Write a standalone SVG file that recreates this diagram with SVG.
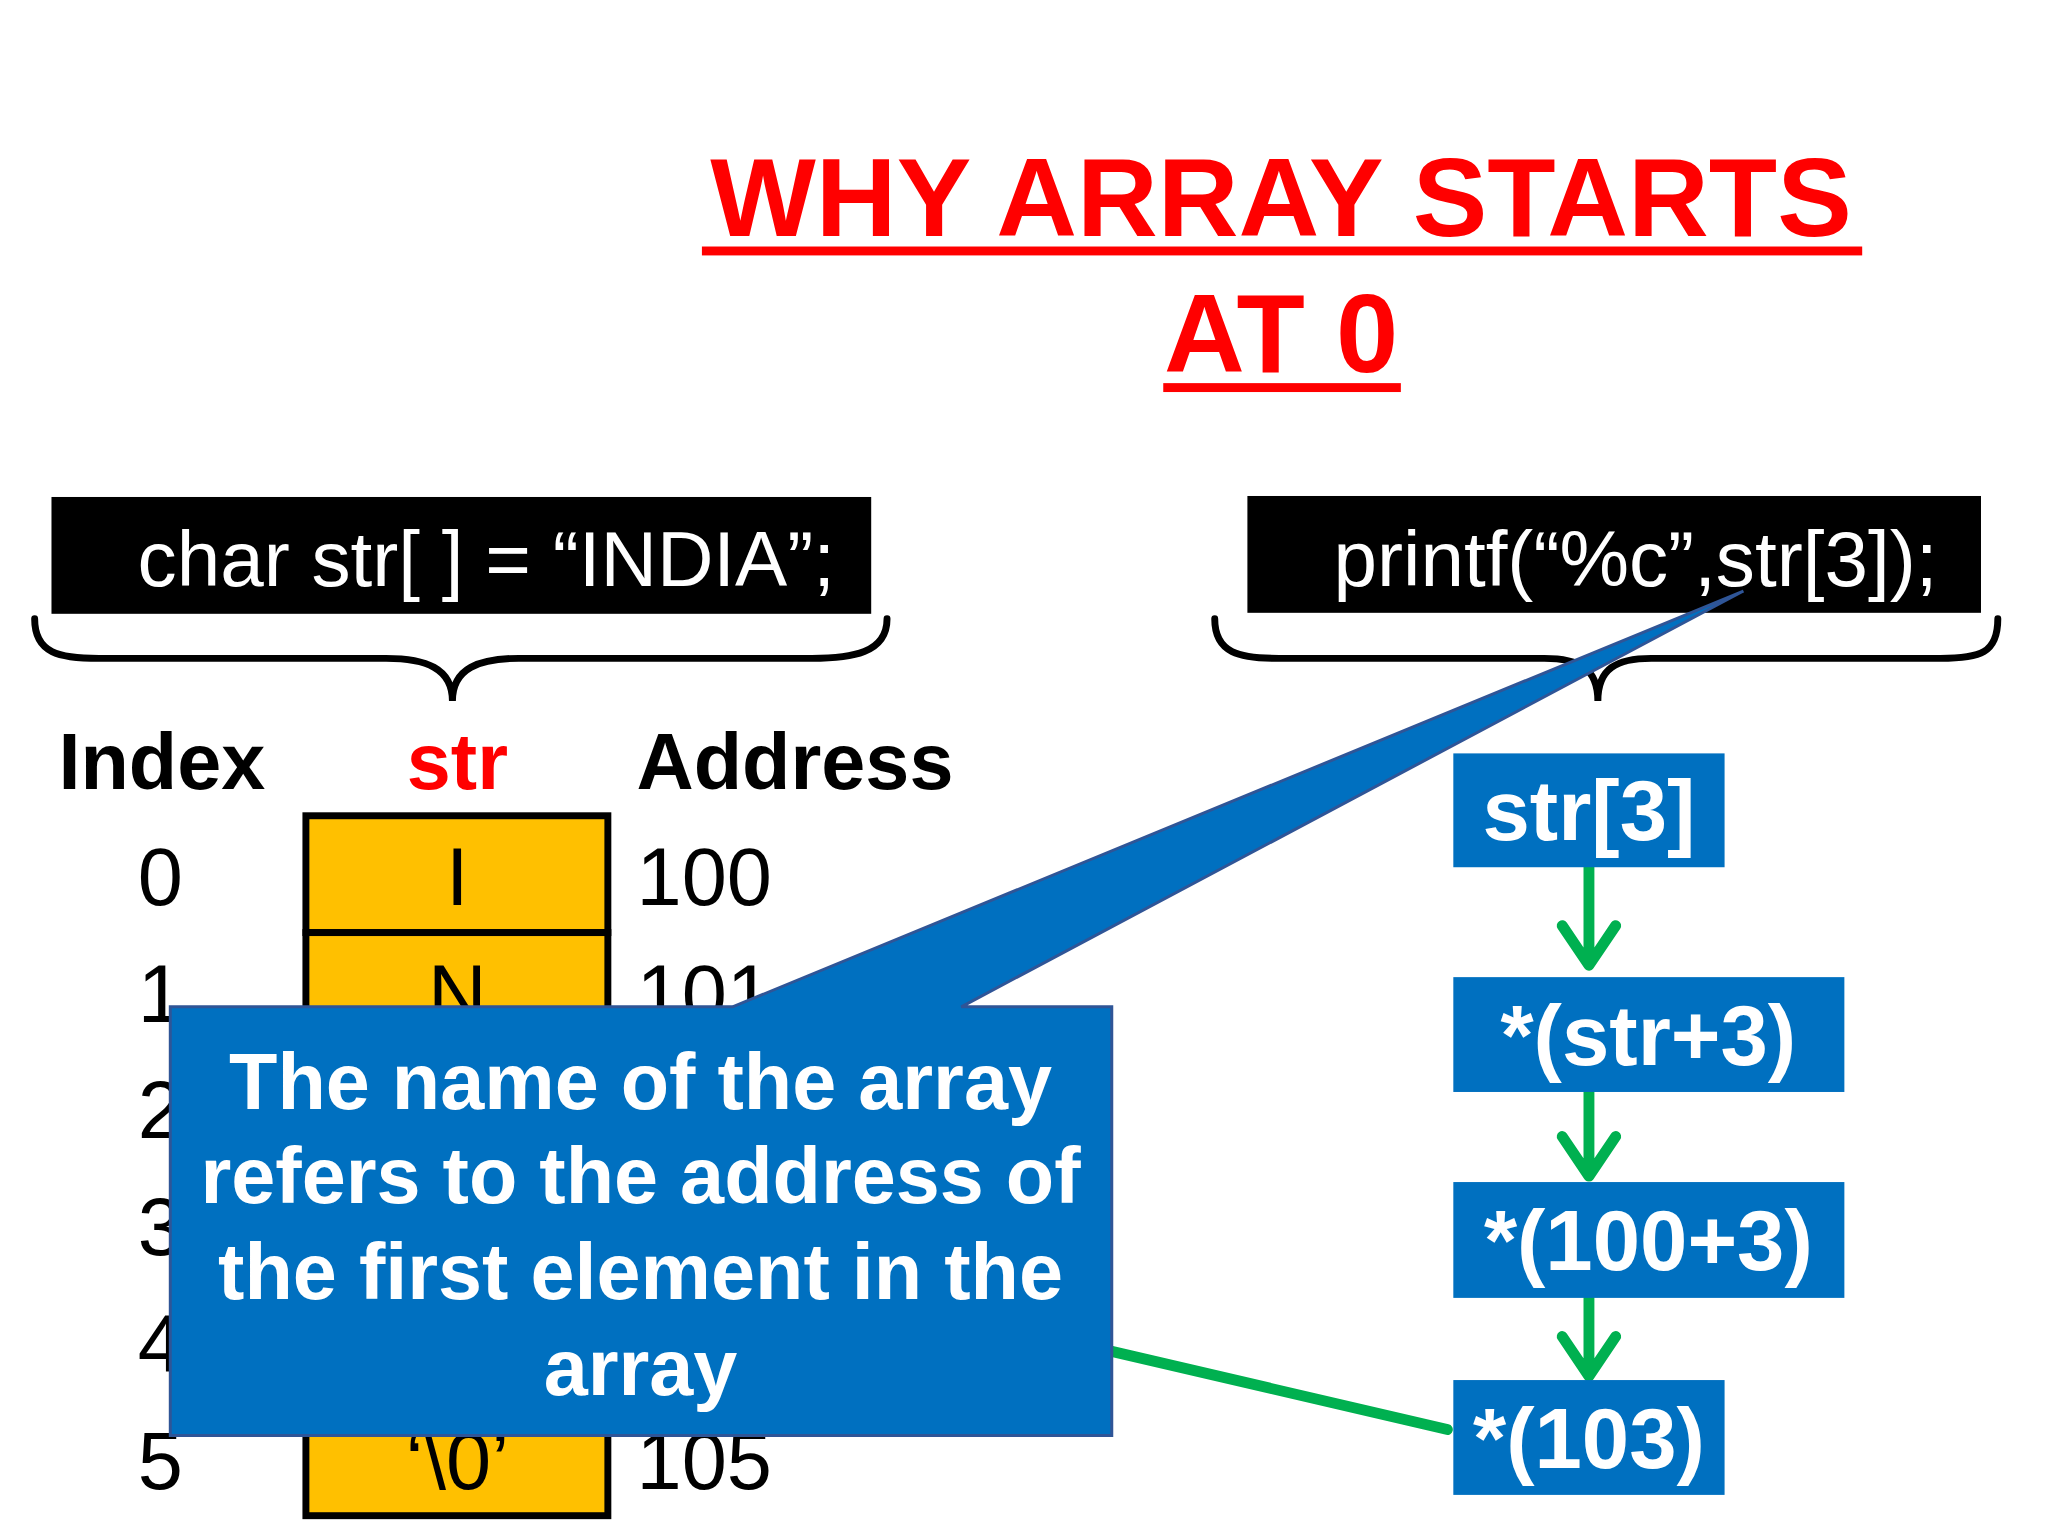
<svg xmlns="http://www.w3.org/2000/svg" width="2048" height="1536" viewBox="0 0 2048 1536">
<style>
.t{font-family:"Liberation Sans",Arial,sans-serif}
.b{font-weight:bold}
.cell{fill:#FFC000;stroke:#000;stroke-width:7}
.blk{fill:#000}
.bx{fill:#0070C0}
.wt{fill:#fff}
.brace{fill:none;stroke:#000;stroke-width:7;stroke-linecap:round}
.g{stroke:#00B050;stroke-width:11;fill:none;stroke-linecap:round;stroke-linejoin:round}
</style>
<rect width="2048" height="1536" fill="#fff"/>
<g transform="scale(0.99)">
<g id="title">
<text class="t b" x="1294" y="238" font-size="113" fill="#FF0000" text-anchor="middle">WHY ARRAY STARTS</text>
<rect x="709" y="249" width="1172" height="9" fill="#FF0000"/>
<text class="t b" x="1294" y="376" font-size="113" fill="#FF0000" text-anchor="middle">AT 0</text>
<rect x="1175" y="387" width="240" height="9" fill="#FF0000"/>
</g>
<g id="decl">
<rect class="blk" x="52" y="502" width="828" height="118"/>
<text class="t wt" x="139" y="592" font-size="79">char str[ ] = “INDIA”;</text>
<path class="brace" d="M35 625 C35 660 60 665 100 665 L390 665 C430 665 457 675 457 708 C457 675 484 665 524 665 L820 665 C860 665 896 660 896 625"/>
</g>
<g id="printf">
<rect class="blk" x="1260" y="501" width="741" height="118"/>
<text class="t wt" x="1347" y="592" font-size="79">printf(“%c”,str[3]);</text>
<path class="brace" d="M1227 625 C1227 660 1252 665 1292 665 L1560 665 C1595 665 1614 675 1614 708 C1614 675 1633 665 1668 665 L1960 665 C2000 665 2018 660 2018 625"/>
</g>
<g id="table">
<text class="t b" x="59" y="797" font-size="80">Index</text>
<text class="t b" x="462" y="797" font-size="80" fill="#FF0000" text-anchor="middle">str</text>
<text class="t b" x="643" y="797" font-size="80">Address</text>
<g class="t" font-size="82" text-anchor="middle">
<rect class="cell" x="309" y="824" width="305" height="118"/>
<rect class="cell" x="309" y="942" width="305" height="118"/>
<rect class="cell" x="309" y="1060" width="305" height="118"/>
<rect class="cell" x="309" y="1178" width="305" height="118"/>
<rect class="cell" x="309" y="1296" width="305" height="118"/>
<rect class="cell" x="309" y="1414" width="305" height="117"/>
<text x="162" y="914">0</text><text x="462" y="914">I</text>
<text x="162" y="1032">1</text><text x="462" y="1032">N</text>
<text x="162" y="1150">2</text><text x="462" y="1150">D</text>
<text x="162" y="1268">3</text><text x="462" y="1268">I</text>
<text x="162" y="1386">4</text><text x="462" y="1386">A</text>
<text x="162" y="1504">5</text><text x="462" y="1504">‘\0’</text>
</g>
<g class="t" font-size="82">
<text x="643" y="914">100</text><text x="643" y="1032">101</text><text x="643" y="1150">102</text>
<text x="643" y="1268">103</text><text x="643" y="1386">104</text><text x="643" y="1504">105</text>
</g>
</g>
<g id="connectors">
<path class="g" d="M1123 1365 L1462 1444"/>
<path class="g" d="M1605 876 L1605 975 M1578 935 L1605 975 L1632 935"/>
<path class="g" d="M1605 1103 L1605 1188 M1578 1148 L1605 1188 L1632 1148"/>
<path class="g" d="M1605 1311 L1605 1390 M1578 1350 L1605 1390 L1632 1350"/>
</g>
<g id="n1"><rect class="bx" x="1468" y="761" width="274" height="115"/><text class="t b wt" x="1605" y="849" font-size="86" text-anchor="middle">str[3]</text></g>
<g id="n2"><rect class="bx" x="1468" y="987" width="395" height="116"/><text class="t b wt" x="1665" y="1076" font-size="86" text-anchor="middle">*(str+3)</text></g>
<g id="n3"><rect class="bx" x="1468" y="1194" width="395" height="117"/><text class="t b wt" x="1665" y="1283" font-size="86" text-anchor="middle">*(100+3)</text></g>
<g id="n4"><rect class="bx" x="1468" y="1394" width="274" height="116"/><text class="t b wt" x="1605" y="1483" font-size="86" text-anchor="middle">*(103)</text></g>
<g id="callout">
<path d="M172 1017 L740 1017 L1761 597 L971 1017 L1123 1017 L1123 1450 L172 1450 Z" fill="#0070C0" stroke="#2F5597" stroke-width="3"/>
<g class="t b wt" font-size="80" text-anchor="middle">
<text x="647" y="1120">The name of the array</text>
<text x="647" y="1215">refers to the address of</text>
<text x="647" y="1312">the first element in the</text>
<text x="647" y="1409">array</text>
</g>
</g>
</g>
</svg>
